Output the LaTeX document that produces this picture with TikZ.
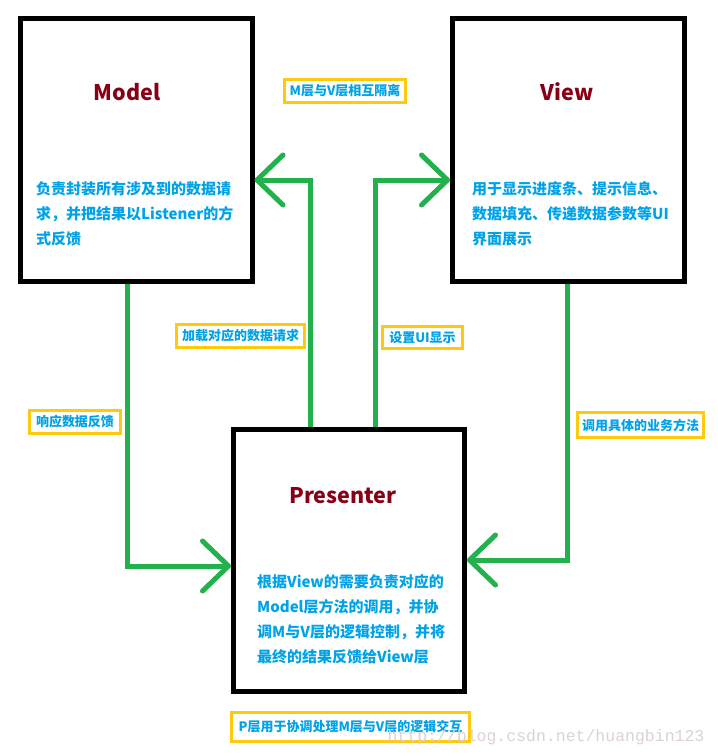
\documentclass[tikz,border=0pt]{standalone}
\usepackage{fontspec}
\newfontfamily\cjk{Noto Sans CJK SC}
\newfontfamily\wmfont{Liberation Mono}
\usetikzlibrary{arrows.meta}
\definecolor{pgreen}{HTML}{22B14C}
\definecolor{pred}{HTML}{880015}
\definecolor{pblue}{HTML}{00A2E8}
\definecolor{pyellow}{HTML}{FFC90E}
\definecolor{wmgrey}{HTML}{DCD2D2}
\begin{document}
\begin{tikzpicture}[x=1pt,y=-1pt,
  layerbox/.style={draw=black, line width=5pt, fill=white, inner sep=0pt},
  title/.style={text=pred, font=\cjk\bfseries\fontsize{21.5}{25}\selectfont, inner sep=0pt},
  body/.style={text=pblue, font=\cjk\bfseries\fontsize{15}{25}\selectfont, align=left, anchor=north west, inner sep=0pt},
  tag/.style={draw=pyellow, line width=3pt, fill=white, text=pblue, font=\cjk\bfseries\fontsize{13}{15}\selectfont, inner sep=0pt},
  flow/.style={draw=pgreen, line width=5pt, line cap=butt, line join=miter, -{Straight Barb[length=26pt,width=50pt,round]}}
]
\useasboundingbox[fill=white] (0,0) rectangle (718,756);

\node[layerbox, minimum width=231.5pt, minimum height=262.5pt] (model) at (136.25,149.75) {};
\node[layerbox, minimum width=232pt, minimum height=262.5pt] (view) at (568.5,149.75) {};
\node[layerbox, minimum width=231pt, minimum height=262pt] (presenter) at (349,560.5) {};

\node[title] (mtitle) at (127,92) {Model};
\node[title] (vtitle) at (567,92) {View};
\node[title] (ptitle) at (343,496) {Presenter};

\node[body] (mtext) at (36,181.5) {负责封装所有涉及到的数据请\\求，并把结果以Listener的方\\式反馈};
\node[body] (vtext) at (472,181) {用于显示进度条、提示信息、\\数据填充、传递数据参数等UI\\界面展示};
\node[body] (ptext) at (257,574.5) {根据View的需要负责对应的\\Model层方法的调用，并协\\调M与V层的逻辑控制，并将\\最终的结果反馈给View层};

\coordinate (b1) at (127,566);
\coordinate (b2) at (310,180);
\coordinate (b3) at (375,180);
\coordinate (b4) at (567,560);
\draw[flow] (model.south -| b1) |- (presenter.west |- b1);
\draw[flow] (presenter.north -| b2) |- (model.east |- b2);
\draw[flow] (presenter.north -| b3) |- (view.west |- b3);
\draw[flow] (view.south -| b4) |- (presenter.east |- b4);

\node[tag, minimum width=121pt, minimum height=23pt] (t1) at (345,91) {M层与V层相互隔离};
\node[tag, minimum width=128pt, minimum height=23pt] (t2) at (240.5,336) {加载对应的数据请求};
\node[tag, minimum width=91pt, minimum height=23pt] (t3) at (75,422) {响应数据反馈};
\node[tag, minimum width=80pt, minimum height=22pt] (t4) at (422.5,337.5) {设置UI显示};
\node[tag, minimum width=126pt, minimum height=25pt] (t5) at (640.5,425) {调用具体的业务方法};
\node[tag, minimum width=238pt, minimum height=29pt] (t6) at (350.5,727) {P层用于协调处理M层与V层的逻辑交互};

\node[text=wmgrey, font=\wmfont\fontsize{16.5}{18}\selectfont, inner sep=0pt] (wm) at (546,737) {http://blog.csdn.net/huangbin123};
\end{tikzpicture}
\end{document}
